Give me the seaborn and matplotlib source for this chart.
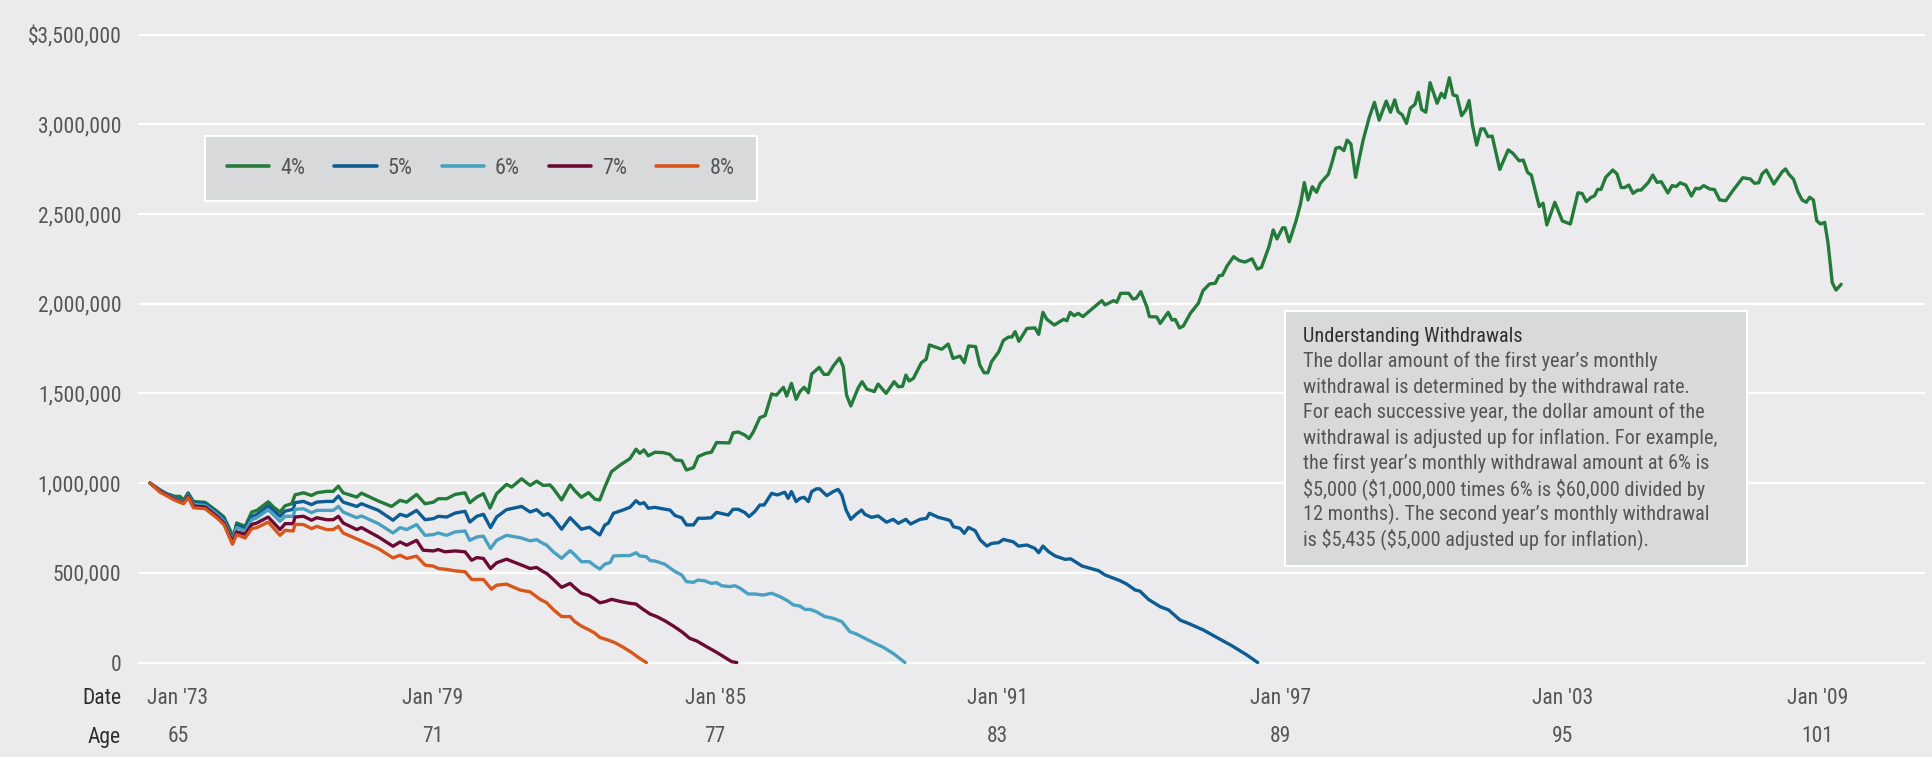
import numpy as np
import pandas as pd
import matplotlib
matplotlib.use("Agg")
import matplotlib.pyplot as plt
from matplotlib import font_manager
from matplotlib.patches import Rectangle
import seaborn as sns

# withdrawal rates and their colours
rates = ["4%", "5%", "6%", "7%", "8%"]
rate_colors = ["#247a3a", "#0d5c94", "#4aa0c0", "#6b0b35", "#d8561c"]

# portfolio values: years after Jan 1973, value in $ millions
yrs_4 = [0, .21, .35, .53, .64, .71, .81, .92, 1.17, 1.42, 1.57, 1.77, 1.84, 2.02, 2.16, 2.27,
         2.51, 2.62, 2.76, 2.87, 3.01, 3.08, 3.26, 3.43, 3.54, 3.75, 3.89, 4.00, 4.10, 4.39, 4.49,
         4.85, 5.13, 5.31, 5.45, 5.66, 5.84, 6.02, 6.12, 6.30, 6.48, 6.69, 6.79, 6.94, 7.08, 7.22,
         7.36, 7.57, 7.68, 7.89, 8.07, 8.21, 8.35, 8.49, 8.56, 8.74, 8.92, 9.02, 9.16, 9.31, 9.45,
         9.55, 9.66, 9.80, 9.98, 10.19, 10.32, 10.40, 10.49, 10.58, 10.72, 10.90, 11.04, 11.15,
         11.29, 11.39, 11.54, 11.64, 11.80, 11.92, 12.03, 12.30, 12.38, 12.49, 12.63, 12.72, 12.81,
         12.95, 13.06, 13.20, 13.30, 13.45, 13.52, 13.62, 13.72, 13.80, 13.89, 13.98, 14.05, 14.21,
         14.31, 14.40, 14.51, 14.64, 14.72, 14.79, 14.88, 15.04, 15.12, 15.22, 15.38, 15.46, 15.63,
         15.80, 15.89, 15.98, 16.05, 16.12, 16.21, 16.38, 16.48, 16.55, 16.81, 16.95, 17.05, 17.20,
         17.29, 17.38, 17.53, 17.62, 17.71, 17.79, 17.87, 18.02, 18.12, 18.23, 18.30, 18.37, 18.45,
         18.62, 18.79, 18.87, 18.96, 19.04, 19.20, 19.40, 19.47, 19.54, 19.62, 19.71, 19.81, 20.10,
         20.21, 20.28, 20.46, 20.53, 20.61, 20.78, 20.87, 20.94, 21.04, 21.17, 21.22, 21.38, 21.45,
         21.62, 21.70, 21.77, 21.86, 21.94, 22.09, 22.26, 22.36, 22.50, 22.62, 22.70, 22.77, 22.87,
         23.01, 23.13, 23.25, 23.40, 23.51, 23.60, 23.76, 23.85, 23.93, 24.05, 24.10, 24.19, 24.33,
         24.43, 24.51, 24.59, 24.68, 24.77, 24.85, 25.02, 25.09, 25.18, 25.26, 25.35, 25.42, 25.50,
         25.60, 25.67, 25.76, 25.89, 26.00, 26.10, 26.25, 26.34, 26.43, 26.50, 26.59, 26.68, 26.76,
         26.86, 26.93, 27.00, 27.09, 27.18, 27.33, 27.42, 27.49, 27.59, 27.67, 27.75, 27.85, 27.94,
         28.01, 28.08, 28.17, 28.26, 28.33, 28.41, 28.50, 28.66, 28.84, 28.94, 29.07, 29.16, 29.25,
         29.33, 29.50, 29.58, 29.66, 29.83, 29.99, 30.16, 30.32, 30.41, 30.50, 30.60, 30.67, 30.74,
         30.81, 30.91, 31.06, 31.15, 31.24, 31.31, 31.40, 31.49, 31.59, 31.66, 31.81, 31.91, 32.00,
         32.09, 32.23, 32.32, 32.41, 32.49, 32.61, 32.73, 32.82, 32.90, 32.99, 33.12, 33.22, 33.33,
         33.46, 33.61, 33.82, 33.98, 34.07, 34.16, 34.23, 34.32, 34.48, 34.66, 34.73, 34.80, 34.90,
         34.99, 35.08, 35.17, 35.24, 35.32, 35.39, 35.47, 35.56, 35.63, 35.72, 35.80, 35.91]
val_4 = [1.000, .963, .941, .926, .926, .904, .946, .898, .893, .844, .811, .700, .778, .759, .839, .848,
         .896, .867, .839, .874, .885, .935, .946, .931, .946, .954, .954, .983, .946, .922, .944,
         .900, .870, .904, .894, .937, .885, .894, .913, .913, .937, .946, .891, .922, .941, .861,
         .941, .993, .978, 1.024, .987, 1.011, .987, .990, .971, .906, .990, .958, .921, .947, .910,
         .906, .980, 1.064, 1.100, 1.136, 1.189, 1.166, 1.185, 1.152, 1.172, 1.170, 1.160, 1.129,
         1.125, 1.073, 1.086, 1.148, 1.166, 1.172, 1.226, 1.224, 1.280, 1.285, 1.268, 1.248, 1.285,
         1.365, 1.376, 1.497, 1.490, 1.534, 1.485, 1.556, 1.467, 1.510, 1.534, 1.504, 1.608, 1.645,
         1.606, 1.606, 1.653, 1.697, 1.649, 1.491, 1.430, 1.532, 1.565, 1.524, 1.510, 1.552, 1.500,
         1.565, 1.537, 1.540, 1.602, 1.569, 1.584, 1.671, 1.690, 1.770, 1.746, 1.775, 1.695, 1.708,
         1.671, 1.764, 1.761, 1.658, 1.615, 1.615, 1.677, 1.731, 1.795, 1.814, 1.814, 1.844, 1.790,
         1.862, 1.865, 1.829, 1.952, 1.914, 1.881, 1.913, 1.905, 1.952, 1.933, 1.946, 1.928, 1.993,
         2.017, 1.993, 2.017, 2.008, 2.058, 2.058, 2.026, 2.030, 2.067, 1.980, 1.928, 1.926, 1.890,
         1.952, 1.909, 1.912, 1.865, 1.875, 1.946, 2.002, 2.073, 2.110, 2.114, 2.156, 2.158, 2.210,
         2.262, 2.240, 2.232, 2.250, 2.193, 2.202, 2.318, 2.411, 2.361, 2.423, 2.423, 2.345, 2.457,
         2.556, 2.675, 2.578, 2.652, 2.621, 2.671, 2.721, 2.779, 2.866, 2.872, 2.853, 2.912, 2.890,
         2.704, 2.800, 2.912, 3.039, 3.122, 3.023, 3.129, 3.067, 3.136, 3.071, 3.052, 3.005, 3.089,
         3.111, 3.178, 3.083, 3.067, 3.232, 3.117, 3.173, 3.148, 3.259, 3.163, 3.158, 3.048, 3.080,
         3.132, 2.996, 2.884, 2.974, 2.974, 2.931, 2.934, 2.748, 2.857, 2.838, 2.797, 2.800, 2.732,
         2.717, 2.541, 2.560, 2.439, 2.565, 2.461, 2.444, 2.618, 2.614, 2.569, 2.593, 2.600, 2.637,
         2.637, 2.704, 2.745, 2.723, 2.647, 2.647, 2.661, 2.615, 2.633, 2.633, 2.674, 2.717, 2.676,
         2.680, 2.617, 2.658, 2.653, 2.674, 2.661, 2.600, 2.643, 2.640, 2.658, 2.639, 2.636, 2.578,
         2.574, 2.630, 2.702, 2.695, 2.671, 2.674, 2.723, 2.745, 2.667, 2.736, 2.751, 2.721, 2.693,
         2.624, 2.578, 2.565, 2.593, 2.578, 2.463, 2.444, 2.453, 2.340, 2.117, 2.076, 2.108]

yrs_5 = [0, .21, .53, .71, .81, .92, 1.17, 1.42, 1.57, 1.75, 1.84, 2.02, 2.16, 2.27, 2.51, 2.76,
         2.87, 3.04, 3.08, 3.26, 3.43, 3.54, 3.75, 3.89, 4.00, 4.10, 4.39, 4.49, 4.85, 5.16, 5.31,
         5.45, 5.66, 5.84, 6.02, 6.12, 6.30, 6.48, 6.69, 6.79, 6.94, 7.08, 7.23, 7.36, 7.57, 7.89,
         8.07, 8.21, 8.35, 8.45, 8.56, 8.74, 8.92, 9.02, 9.16, 9.33, 9.45, 9.55, 9.66, 9.73, 9.84,
         10.01, 10.19, 10.32, 10.40, 10.49, 10.58, 10.72, 10.90, 11.04, 11.15, 11.29, 11.39, 11.54,
         11.64, 11.78, 11.92, 12.03, 12.28, 12.38, 12.49, 12.63, 12.72, 12.84, 12.95, 13.04, 13.20,
         13.32, 13.48, 13.55, 13.62, 13.72, 13.80, 13.89, 13.98, 14.05, 14.15, 14.22, 14.37, 14.51,
         14.61, 14.69, 14.78, 14.88, 15.00, 15.11, 15.18, 15.32, 15.46, 15.64, 15.78, 15.89, 16.05,
         16.15, 16.35, 16.49, 16.55, 16.74, 16.91, 16.99, 17.06, 17.20, 17.29, 17.38, 17.52, 17.63,
         17.77, 17.87, 18.02, 18.12, 18.33, 18.44, 18.62, 18.79, 18.87, 18.96, 19.08, 19.22, 19.43,
         19.55, 19.79, 20.14, 20.28, 20.60, 20.74, 20.92, 21.02, 21.20, 21.45, 21.63, 21.87, 22.05,
         22.37, 22.65, 22.97, 23.29, 23.52]
val_5 = [1.000, .959, .919, .898, .937, .889, .885, .835, .802, .685, .765, .746, .815, .826, .874, .815,
         .844, .854, .891, .898, .880, .894, .898, .898, .928, .894, .870, .885, .848, .793, .826,
         .815, .848, .796, .802, .815, .811, .833, .843, .783, .815, .826, .752, .811, .852, .870,
         .839, .852, .820, .830, .804, .743, .807, .780, .743, .754, .730, .711, .767, .776, .832,
         .847, .865, .902, .884, .891, .860, .865, .856, .850, .819, .807, .767, .767,
         .804, .804, .807, .837, .822, .854, .854, .836, .813, .841, .878, .878, .943,
         .934, .949, .915, .953, .897, .915, .921, .897, .953, .968, .968, .930, .953,
         .965, .934, .850, .798, .828, .850, .826, .809, .817, .782, .798, .776, .798,
         .772, .798, .804, .832, .809, .798, .791, .757, .748, .720, .753, .735, .683,
         .649, .664, .668, .686, .673, .649, .655, .636, .612, .649, .618, .594, .575,
         .578, .538, .512, .488, .456, .437, .404, .398, .352, .311, .293, .237, .218,
         .181, .140, .094, .042, 0.0]

yrs_6 = [0, .21, .53, .71, .81, .92, 1.17, 1.42, 1.57, 1.75, 1.84, 2.02, 2.16, 2.27, 2.51, 2.76,
         2.87, 3.04, 3.08, 3.26, 3.43, 3.54, 3.75, 3.89, 4.00, 4.10, 4.39, 4.49, 4.85, 5.16, 5.31,
         5.45, 5.66, 5.84, 6.02, 6.12, 6.30, 6.48, 6.69, 6.79, 6.94, 7.08, 7.23, 7.36, 7.57, 7.89,
         8.07, 8.21, 8.35, 8.42, 8.56, 8.74, 8.92, 9.02, 9.16, 9.33, 9.45, 9.55, 9.66, 9.77, 9.84,
         10.01, 10.19, 10.32, 10.40, 10.54, 10.62, 10.72, 10.93, 11.15, 11.29, 11.39, 11.54, 11.64,
         11.78, 11.92, 12.03, 12.14, 12.31, 12.42, 12.53, 12.70, 12.84, 13.02, 13.20, 13.38, 13.55,
         13.66, 13.80, 13.91, 14.02, 14.15, 14.33, 14.51, 14.69, 14.86, 15.00, 15.11, 15.36, 15.57,
         15.78, 16.03]
val_6 = [1.000, .956, .913, .894, .931, .881, .876, .826, .789, .678, .752, .733, .796, .807, .852, .787,
         .815, .815, .854, .857, .835, .848, .848, .848, .870, .839, .807, .817, .774, .722, .752,
         .741, .769, .709, .713, .722, .709, .728, .733, .681, .700, .704, .635, .681, .709, .694,
         .678, .685, .663, .655, .618, .581, .624, .600, .562, .562, .538, .521, .549, .557, .594,
         .596, .596, .612, .594, .590, .568, .566, .548, .507, .488, .451, .447, .460,
         .455, .441, .445, .428, .423, .428, .414, .382, .382, .376, .386, .367, .342,
         .321, .315, .296, .296, .283, .256, .246, .228, .172, .159, .144, .111, .085,
         .051, 0.0]

yrs_7 = [0, .21, .53, .71, .81, .92, 1.17, 1.42, 1.57, 1.75, 1.84, 2.02, 2.16, 2.27, 2.51, 2.76,
         2.87, 3.04, 3.08, 3.26, 3.43, 3.54, 3.75, 3.89, 4.00, 4.10, 4.39, 4.49, 4.85, 5.16, 5.31,
         5.45, 5.66, 5.80, 6.02, 6.12, 6.26, 6.48, 6.69, 6.83, 6.94, 7.08, 7.23, 7.36, 7.57, 7.89,
         8.07, 8.21, 8.35, 8.42, 8.56, 8.74, 8.92, 9.02, 9.16, 9.33, 9.45, 9.55, 9.66, 9.80, 10.01,
         10.19, 10.32, 10.44, 10.62, 10.76, 10.93, 11.11, 11.29, 11.46, 11.61, 11.82, 12.03, 12.24,
         12.35, 12.46]
val_7 = [1.000, .954, .909, .889, .926, .872, .867, .815, .778, .672, .728, .715, .769, .778, .811, .741,
         .774, .774, .811, .815, .793, .807, .796, .796, .815, .778, .741, .752, .700, .648, .672,
         .654, .681, .626, .622, .630, .617, .622, .617, .570, .585, .580, .524, .556, .576, .543,
         .524, .530, .506, .497, .464, .419, .441, .417, .386, .373, .352, .333, .339, .352, .339,
         .330, .326, .302, .270, .256, .233, .204, .172, .135, .120, .088, .057, .023,
         .005, 0.0]

yrs_8 = [0, .21, .53, .71, .81, .92, 1.17, 1.42, 1.57, 1.75, 1.84, 2.02, 2.16, 2.27, 2.51, 2.76,
         2.87, 3.04, 3.08, 3.26, 3.43, 3.54, 3.75, 3.89, 4.00, 4.10, 4.46, 4.85, 5.16, 5.31, 5.45,
         5.66, 5.84, 6.02, 6.12, 6.30, 6.48, 6.69, 6.83, 7.08, 7.25, 7.36, 7.57, 7.86, 8.07, 8.28,
         8.42, 8.56, 8.74, 8.92, 9.02, 9.16, 9.33, 9.45, 9.55, 9.73, 9.87, 10.05, 10.23, 10.40, 10.54]
val_8 = [1.000, .950, .904, .885, .919, .863, .857, .806, .769, .659, .713, .694, .746, .752, .783, .709,
         .737, .733, .770, .769, .746, .759, .741, .741, .759, .722, .681, .635, .583, .598, .580,
         .593, .543, .537, .524, .519, .511, .506, .463, .463, .409, .431, .437, .404, .394, .353,
         .334, .296, .256, .256, .228, .203, .181, .163, .140, .125, .111, .085, .055, .023, 0.0]

start_year = 1973

# axes labels
y_ticks = [0, 500000, 1000000, 1500000, 2000000, 2500000, 3000000, 3500000]
y_tick_labels = ["0", "500,000", "1,000,000", "1,500,000", "2,000,000", "2,500,000",
                 "3,000,000", r"\$3,500,000"]
date_ticks = [1973, 1979, 1985, 1991, 1997, 2003, 2009]
date_labels = ["Jan '73", "Jan '79", "Jan '85", "Jan '91", "Jan '97", "Jan '03", "Jan '09"]
age_labels = ["65", "71", "77", "83", "89", "95", "101"]

box_title = "Understanding Withdrawals"
box_lines = [
    "The dollar amount of the first year\u2019s monthly",
    "withdrawal is determined by the withdrawal rate.",
    "For each successive year, the dollar amount of the",
    "withdrawal is adjusted up for inflation. For example,",
    "the first year\u2019s monthly withdrawal amount at 6% is",
    r"\$5,000 (\$1,000,000 times 6% is \$60,000 divided by",
    "12 months). The second year\u2019s monthly withdrawal",
    r"is \$5,435 (\$5,000 adjusted up for inflation).",
]

BG = "#ebebed"
BOX = "#d8d9db"
GREY = "#555558"
DARK = "#2e2e30"

sns.set_theme(style="white")

# pick a narrow sans face if one is installed (the original uses a condensed DIN-like face)
fm_list = font_manager.fontManager.ttflist
fm_names = {f.name for f in fm_list}
font_family, font_stretch = "Roboto", "normal"
for cand in ["Roboto Condensed", "Liberation Sans Narrow", "Open Sans Condensed",
             "Noto Sans Condensed", "DejaVu Sans Condensed"]:
    if cand in fm_names:
        font_family = cand
        break
else:
    for f in fm_list:
        if f.name in ("DejaVu Sans", "Noto Sans", "Open Sans", "Roboto") and \
                str(f.stretch) in ("condensed", "semi-condensed"):
            font_family, font_stretch = f.name, str(f.stretch)
            break
plt.rcParams["font.family"] = [font_family, "DejaVu Sans"]
plt.rcParams["font.stretch"] = font_stretch

# build long table for seaborn
frames = []
for rate, yrs, vals in zip(rates, [yrs_4, yrs_5, yrs_6, yrs_7, yrs_8],
                           [val_4, val_5, val_6, val_7, val_8]):
    frames.append(pd.DataFrame({
        "year": start_year + np.array(yrs),
        "value": np.array(vals) * 1e6,
        "rate": rate,
    }))
df = pd.concat(frames, ignore_index=True)

W, H = 1933, 757
fig = plt.figure(figsize=(W / 100, H / 100), dpi=100, facecolor=BG)
ax_bottom, ax_top = 671.5, 16.6
ax = fig.add_axes([138 / W, (H - ax_bottom) / H, (1925 - 138) / W, (ax_bottom - ax_top) / H])
ax.set_facecolor(BG)

sns.lineplot(data=df, x="year", y="value", hue="rate", hue_order=rates,
             palette=dict(zip(rates, rate_colors)), estimator=None, sort=False,
             linewidth=2.4, ax=ax)

ax.set_xlim(1972.745, 2010.69)
ax.set_ylim(-50000, 3600000)
ax.set_yticks(y_ticks)
ax.set_yticklabels(y_tick_labels)
ax.set_xticks([])
ax.set_xlabel("")
ax.set_ylabel("")
ax.tick_params(axis="y", length=0, pad=12, labelsize=15.5, labelcolor=GREY)
ax.yaxis.grid(True, color="white", linewidth=1.6)
ax.set_axisbelow(True)
for s in ax.spines.values():
    s.set_visible(False)

# legend
handles, labels = ax.get_legend_handles_labels()
leg = ax.legend(handles, labels, ncol=5, loc="upper left",
                bbox_to_anchor=(205 / W, 1 - 136 / H), bbox_transform=fig.transFigure,
                frameon=True, fancybox=False, facecolor=BOX, edgecolor="white",
                framealpha=1, fontsize=16, handlelength=1.9, handletextpad=0.5,
                columnspacing=1.3, borderpad=1.0, borderaxespad=0, labelcolor=GREY)
leg.get_frame().set_linewidth(1.5)
for ln in leg.get_lines():
    ln.set_linewidth(2.6)

# Date / Age rows under the axis
xform = ax.get_xaxis_transform()
date_row, age_row = (ax_bottom - 698) / (ax_bottom - ax_top), (ax_bottom - 737) / (ax_bottom - ax_top)
nudges = [20] + [0] * (len(date_ticks) - 2) + [-20]
for yr, dl, al, nd in zip(date_ticks, date_labels, age_labels, nudges):
    ax.annotate(dl, xy=(yr, date_row), xycoords=xform, xytext=(nd, 0),
                textcoords="offset points", ha="center", va="center",
                fontsize=15.5, color=GREY, annotation_clip=False)
    ax.annotate(al, xy=(yr, age_row), xycoords=xform, xytext=(nd, 0),
                textcoords="offset points", ha="center", va="center",
                fontsize=15.5, color=GREY, annotation_clip=False)
fig.text(121 / W, 1 - 698 / H, "Date", ha="right", va="center", fontsize=15.5, color=DARK)
fig.text(121 / W, 1 - 737 / H, "Age", ha="right", va="center", fontsize=15.5, color=DARK)

# explanation box
fig.add_artist(Rectangle((1285 / W, 1 - 566 / H), 462 / W, 255 / H, transform=fig.transFigure,
                         facecolor=BOX, edgecolor="white", linewidth=1.5, zorder=5))
fig.text(1303 / W, 1 - 336.7 / H, box_title, ha="left", va="center", fontsize=14.6,
         color=DARK, zorder=6)
for i, line in enumerate(box_lines):
    fig.text(1303 / W, 1 - (361.7 + i * 25.4) / H, line, ha="left", va="center",
             fontsize=14.6, color=GREY, zorder=6)

fig.savefig("out.png", dpi=100, facecolor=BG)
